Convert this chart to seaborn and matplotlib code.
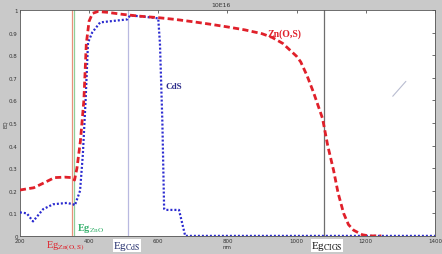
import numpy as np
import pandas as pd
import matplotlib
matplotlib.use("Agg")
import matplotlib.pyplot as plt
import seaborn as sns

# ---- data ----
zos_nm = [200, 240, 270, 300, 330, 350, 358, 365, 375, 385, 392, 400, 410, 425, 450,
          500, 550, 600, 650, 700, 750, 800, 850, 900, 930, 960, 1000, 1012, 1030,
          1049, 1075, 1090, 1107, 1120, 1136, 1150, 1165, 1190, 1210, 1245]
zos_eq = [0.203, 0.213, 0.235, 0.258, 0.260, 0.258, 0.247, 0.30, 0.42, 0.60, 0.85, 0.95,
          0.985, 0.993, 0.990, 0.980, 0.972, 0.966, 0.958, 0.948, 0.937, 0.925, 0.912,
          0.895, 0.878, 0.852, 0.795, 0.770, 0.710, 0.635, 0.520, 0.400, 0.290, 0.190,
          0.100, 0.050, 0.025, 0.005, 0.0, 0.0]

cds_nm = [200, 220, 238, 267, 296, 336, 354, 359, 374, 382, 390, 397, 409, 432, 461,
          510, 519, 560, 600, 605, 612, 617, 620, 660, 678, 800, 1000, 1200, 1400]
cds_eq = [0.104, 0.100, 0.064, 0.118, 0.140, 0.146, 0.140, 0.135, 0.20, 0.36, 0.60,
          0.855, 0.90, 0.945, 0.950, 0.958, 0.976, 0.970, 0.963, 0.85, 0.50, 0.12,
          0.115, 0.115, 0.0, 0.0, 0.0, 0.0, 0.0]

eg_lines = {"Zn(O,S)": 350, "ZnO": 357, "CdS": 513, "CIGS": 1078}
x_ticks = [200, 400, 600, 800, 1000, 1200, 1400]
y_ticks = [0, 0.1, 0.2, 0.3, 0.4, 0.5, 0.6, 0.7, 0.8, 0.9, 1]
y_tick_labels = ["0", "0.1", "0.2", "0.3", "0.4", "0.5", "0.6", "0.7", "0.8", "0.9", "1"]
stray_nm = [1278, 1316]
stray_eq = [0.618, 0.684]

sns.set_style("white")
plt.rcParams["mathtext.fontset"] = "stix"

bg = "#c9c9c9"
fig = plt.figure(figsize=(4.42, 2.55), dpi=100, facecolor=bg)
ax = fig.add_axes([0.045, 0.071, 0.939, 0.886])
ax.set_facecolor("white")

df_zos = pd.DataFrame({"nm": zos_nm, "EQ": zos_eq})
df_cds = pd.DataFrame({"nm": cds_nm, "EQ": cds_eq})

# vertical Eg markers
ax.axvline(eg_lines["Zn(O,S)"], color="#e8907a", lw=0.9, zorder=1)
ax.axvline(eg_lines["ZnO"], color="#8fcf9a", lw=0.9, zorder=1)
ax.axvline(eg_lines["CdS"], color="#b9b9e0", lw=0.9, zorder=1)
ax.axvline(eg_lines["CIGS"], color="#6e6e6e", lw=0.9, zorder=1)

sns.lineplot(data=df_cds, x="nm", y="EQ", ax=ax, color="#2b2bd0", lw=1.6,
             linestyle=(0, (0.9, 0.9)), zorder=3)
sns.lineplot(data=df_zos, x="nm", y="EQ", ax=ax, color="#e0202a", lw=2.0,
             linestyle=(0, (2.2, 1.2)), zorder=4)
sns.lineplot(x=stray_nm, y=stray_eq, ax=ax, color="#b8bcd0", lw=0.8)

ax.set_xlim(200, 1400)
ax.set_ylim(0, 1)
ax.set_xticks(x_ticks)
ax.set_xticklabels([str(v) for v in x_ticks])
ax.set_yticks(y_ticks)
ax.set_yticklabels(y_tick_labels)
ax.tick_params(axis="both", which="both", direction="in", length=2, width=0.5,
               labelsize=4, pad=1.5, colors="#333333", top=True, right=True,
               labeltop=False, labelright=False)
for s in ax.spines.values():
    s.set_color("#555555")
    s.set_linewidth(0.6)

ax.set_xlabel("nm", fontsize=4, labelpad=1, color="#333333")
ax.set_ylabel("EQ", fontsize=4, labelpad=1, color="#333333")
fig.text(0.50, 0.978, "10E16", ha="center", va="center", fontsize=4.5, color="#333333")

serif = "Liberation Serif"
ax.text(915, 0.895, "Zn(O,S)", color="#e0202a", fontsize=7, fontweight="bold",
        family=serif, ha="left", va="center")
ax.text(622, 0.663, "CdS", color="#2a2a8a", fontsize=6.5, fontweight="bold",
        family=serif, ha="left", va="center")
ax.text(365, 0.035, r"Eg$_{\mathrm{ZnO}}$", color="#3cb371", fontsize=7.5,
        fontweight="bold", family=serif, ha="left", va="center")

box = dict(facecolor="white", edgecolor="none", pad=0.3)
ly = 1 - 246.5 / 255
fig.text(46 / 442, ly, r"Eg$_{\mathrm{Zn(O,S)}}$", color="#e0202a",
         fontsize=7.5, family=serif, ha="left", va="center")
fig.text(113 / 442, ly, r"Eg$_{\mathrm{CdS}}$", color="#1f2a6a",
         fontsize=8, family=serif, ha="left", va="center", bbox=box)
fig.text(311 / 442, ly, r"Eg$_{\mathrm{CIGS}}$", color="#111111",
         fontsize=8, family=serif, ha="left", va="center", bbox=box)

fig.savefig("out.png", dpi=100, facecolor=bg)
